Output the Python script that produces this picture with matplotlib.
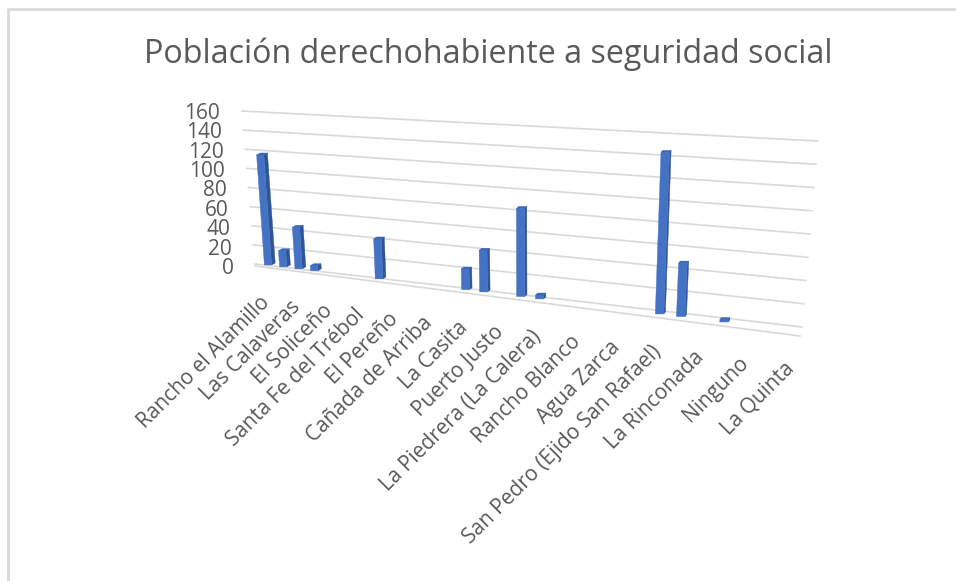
# -*- coding: utf-8 -*-
import numpy as np
import matplotlib
matplotlib.use('Agg')
import matplotlib.pyplot as plt

title = 'Población derechohabiente a seguridad social'
# only every second category has a label in the chart
tick_labels = ['Rancho el Alamillo', 'Las Calaveras', 'El Soliceño', 'Santa Fe del Trébol',
               'El Pereño', 'Cañada de Arriba', 'La Casita', 'Puerto Justo',
               'La Piedrera (La Calera)', 'Rancho Blanco', 'Agua Zarca',
               'San Pedro (Ejido San Rafael)', 'La Rinconada', 'Ninguno', 'La Quinta']
values = [110, 16, 41, 5, 0, 0, 0, 38, 0, 0, 0, 0, 19, 38, 0, 79,
          3.5, 0, 0, 0, 0, 0, 137, 45, 0, 2, 0, 0, 0]
y_ticks = [0, 20, 40, 60, 80, 100, 120, 140, 160]

plt.rcParams['font.family'] = 'Open Sans'
fig = plt.figure(figsize=(9.56, 5.81), dpi=100)
ax = fig.add_axes([0, 0, 1, 1])
ax.set_xlim(0, 956)
ax.set_ylim(581, 0)
ax.axis('off')

# the Excel 3D view: categories get closer to the camera going right
def depth(i):
    return 1 - 0.0068966 * i

def base_x(i):
    return (13.25 * i + 268) / depth(i)

def base_y(x):
    return 265 + 0.125 * (x - 268)

def project(i, v):
    # category position and value to pixels on the bar plane
    x0 = base_x(i)
    h = v / depth(i)
    return x0 + h * (x0 - 530) * 0.00027, base_y(x0) - h

def wall(t, v):
    # t = 0 left end of back wall, t = 1 right end
    f = v / 160
    xl = 255 + (242 - 255) * f
    yl = 264 + (111 - 264) * f
    xr = 802 + (818 - 802) * f
    yr = 327 + (141 - 327) * f
    return xl + (xr - xl) * t, yl + (yr - yl) * t

# frame of the pasted chart
ax.plot([8.5, 8.5, 956], [581, 8.5, 8.5], color='#d9d9d9', lw=2, solid_capstyle='butt')

# gridlines
for v in y_ticks:
    p0 = wall(0, v)
    p1 = wall(1, v)
    ax.plot([p0[0], p1[0]], [p0[1], p1[1]], color='#d9d9d9', lw=1.2, zorder=1)
ax.plot([255, 800], [266, 336], color='#d9d9d9', lw=1.2, zorder=1)

# bars
for i, v in enumerate(values):
    if v == 0:
        continue
    w = 3.6 / depth(i)
    side = 3.6 - 0.005 * (base_x(i) - 268)
    bx, by = project(i, 0)
    tx, ty = project(i, v)
    front = [(bx - w, by), (bx + w, by), (tx + w, ty), (tx - w, ty)]
    right = [(bx + w, by), (bx + w + side, by - 2), (tx + w + side, ty - 2), (tx + w, ty)]
    top = [(tx - w, ty), (tx + w, ty), (tx + w + side, ty - 2), (tx - w + side, ty - 2)]
    ax.fill(*zip(*right), color='#2f5597', lw=0.3, zorder=3)
    ax.fill(*zip(*front), color='#4472c4', lw=0.3, zorder=4)
    ax.fill(*zip(*top), color='#3a66b4', lw=0.3, zorder=4)

# text
ax.text(488.5, 54, title, color='#595959', fontsize=23.2, ha='center', va='center')
for v in y_ticks:
    ax.text(234 - v * 14 / 160, 268.5 - v * 0.969, str(v), color='#595959', fontsize=15,
            ha='right', va='center')
for k, lab in enumerate(tick_labels):
    x0 = base_x(2 * k)
    ax.text(x0 - 1, base_y(x0) + 35, lab, color='#595959', fontsize=15, rotation=45,
            ha='right', va='center', rotation_mode='anchor')

fig.savefig('out.png', dpi=100)
